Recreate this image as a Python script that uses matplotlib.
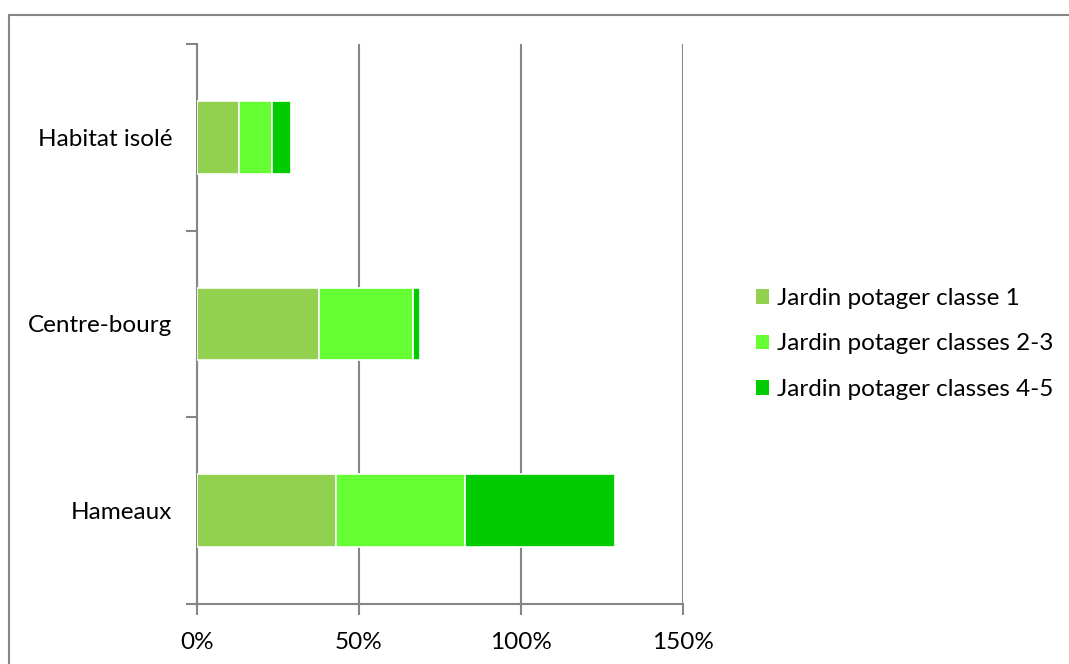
import matplotlib.pyplot as plt
from matplotlib.patches import Rectangle, Patch
from matplotlib.ticker import FuncFormatter

categories = ['Hameaux', 'Centre-bourg', 'Habitat isolé']
classe_1 = [0.428, 0.375, 0.129]
classes_2_3 = [0.400, 0.292, 0.101]
classes_4_5 = [0.461, 0.020, 0.059]

series_labels = ['Jardin potager classe 1', 'Jardin potager classes 2-3', 'Jardin potager classes 4-5']
colors = ['#92D050', '#66FF33', '#00CC00']

plt.rcParams['font.family'] = ['Lato', 'DejaVu Sans']

fig = plt.figure(figsize=(10.69, 6.64), dpi=100)
ax = fig.add_axes([197 / 1069, 1 - 604 / 664, (683 - 197) / 1069, (604 - 44) / 664])

# outer chart frame (cut off at right and bottom in the original)
fig.patches.append(Rectangle((9 / 1069, -0.1), 1.2, 1 - 15 / 664 + 0.1, transform=fig.transFigure,
                             fill=False, edgecolor='#868686', linewidth=1.5, zorder=0))

y = range(len(categories))
left = [0, 0, 0]
for vals, col, lab in zip([classe_1, classes_2_3, classes_4_5], colors, series_labels):
    ax.barh(y, vals, left=left, height=0.39, color=col, edgecolor='white', linewidth=1.2, label=lab, zorder=3)
    left = [a + b for a, b in zip(left, vals)]

ax.set_xlim(0, 1.5)
ax.set_ylim(-0.5, 2.5)
ax.set_xticks([0, 0.5, 1.0, 1.5])
ax.xaxis.set_major_formatter(FuncFormatter(lambda v, p: f'{v * 100:.0f}%'))
ax.set_yticks([-0.5, 0.5, 1.5, 2.5])
ax.set_yticklabels([])
ax.set_yticks([0, 1, 2], minor=True)
ax.set_yticklabels(categories, minor=True)
ax.tick_params(axis='y', which='minor', length=0, pad=18, labelsize=17.5)
ax.tick_params(axis='y', which='major', length=8, width=1.5, color='#868686')
ax.tick_params(axis='x', length=8, width=1.5, color='#868686', labelsize=17.5, pad=12)

ax.grid(axis='x', color='#868686', linewidth=1.5, zorder=0)
for s in ['top', 'right']:
    ax.spines[s].set_visible(False)
for s in ['left', 'bottom']:
    ax.spines[s].set_color('#868686')
    ax.spines[s].set_linewidth(1.5)

handles = [Patch(facecolor=c, label=l) for c, l in zip(colors, series_labels)]
fig.legend(handles=handles, loc='center left', bbox_to_anchor=(734 / 1069, 1 - 344 / 664),
           frameon=False, fontsize=17.5, handlelength=0.55, handleheight=0.55, handletextpad=0.3,
           labelspacing=1.0)

plt.savefig('out.png', dpi=100)
